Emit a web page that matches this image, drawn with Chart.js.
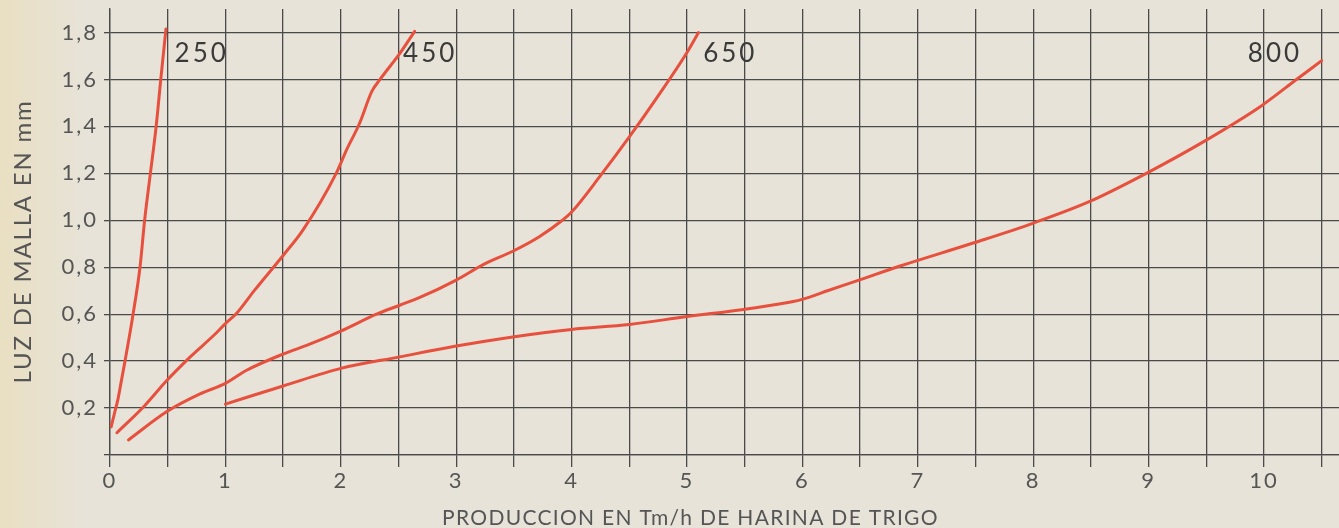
<!DOCTYPE html>
<html>
<head>
<meta charset="utf-8">
<script src="https://cdn.jsdelivr.net/npm/chart.js@4/dist/chart.umd.min.js"></script>
<style>
  html, body { margin: 0; padding: 0; background: #e6e2d8; }
  canvas { display: block; }
</style>
</head>
<body>
<canvas id="c" width="1339" height="528"></canvas>
<script>
// ---- data ----
const x250 = [0.01, 0.04, 0.07, 0.10, 0.13, 0.20, 0.26, 0.30, 0.35, 0.40, 0.44, 0.485];
const y250 = [0.12, 0.18, 0.24, 0.32, 0.40, 0.60, 0.80, 1.00, 1.20, 1.40, 1.60, 1.815];

const x450 = [0.06, 0.30, 0.49, 0.70, 0.90, 1.00, 1.10, 1.25, 1.50, 1.67, 1.96, 2.05, 2.16, 2.27, 2.34, 2.51, 2.64];
const y450 = [0.095, 0.21, 0.316, 0.42, 0.51, 0.56, 0.605, 0.70, 0.85, 0.957, 1.20, 1.30, 1.41, 1.55, 1.60, 1.71, 1.805];

const x650 = [0.16, 0.49, 0.78, 1.00, 1.18, 1.50, 1.73, 2.00, 2.31, 2.51, 2.68, 3.00, 3.23, 3.49, 3.72, 3.92, 4.00, 4.25, 4.50, 4.75, 5.00, 5.10];
const y650 = [0.064, 0.184, 0.26, 0.305, 0.36, 0.43, 0.472, 0.528, 0.60, 0.638, 0.67, 0.745, 0.81, 0.868, 0.93, 1.00, 1.035, 1.19, 1.355, 1.53, 1.715, 1.80];

const x800 = [1.00, 1.50, 2.00, 2.51, 3.00, 3.49, 4.00, 4.50, 4.99, 5.49, 5.80, 5.99, 6.23, 6.49, 6.84, 7.48, 7.99, 8.48, 8.98, 9.47, 9.97, 10.29, 10.50];
const y800 = [0.217, 0.294, 0.369, 0.418, 0.464, 0.503, 0.535, 0.556, 0.589, 0.62, 0.643, 0.662, 0.702, 0.745, 0.804, 0.903, 0.986, 1.078, 1.20, 1.333, 1.485, 1.603, 1.68];

const seriesNames = ['250', '450', '650', '800'];
// label anchor (data coords, left edge / vertical middle)
const labelX = [0.56, 2.54, 5.14, 9.86];
const labelY = [1.71, 1.71, 1.71, 1.71];

const xTitle = 'PRODUCCION EN Tm/h DE HARINA DE TRIGO';
const yTitle = 'LUZ DE MALLA EN mm';

// ---- helpers ----
const toPts = (xs, ys) => xs.map((x, i) => ({ x, y: ys[i] }));
const RED = '#e8503e';
const GRID = '#4a4a4a';
const TXT = '#555555';
const FONT = 'Lato, "Open Sans", sans-serif';
const TICK_SPACING = '2px';

const mk = (name, xs, ys) => ({
  label: name,
  data: toPts(xs, ys),
  borderColor: RED,
  borderWidth: 3,
  pointRadius: 0,
  fill: false,
  cubicInterpolationMode: 'monotone',
  tension: 0.4,
  borderCapStyle: 'round',
  borderJoinStyle: 'round'
});

const spacingPlugin = {
  id: 'spacing',
  beforeUpdate(chart) { chart.ctx.letterSpacing = TICK_SPACING; },
  beforeLayout(chart) { chart.ctx.letterSpacing = TICK_SPACING; },
  beforeDraw(chart) { chart.ctx.letterSpacing = TICK_SPACING; }
};

const bgPlugin = {
  id: 'bg',
  beforeDraw(chart) {
    const { ctx, width, height } = chart;
    ctx.save();
    const g = ctx.createLinearGradient(0, 0, 90, 0);
    g.addColorStop(0, '#e9dfc2');
    g.addColorStop(1, '#e7e3d9');
    ctx.fillStyle = g;
    ctx.fillRect(0, 0, width, height);
    ctx.restore();
  }
};

const textPlugin = {
  id: 'texts',
  afterDraw(chart) {
    const { ctx, scales } = chart;
    const xs = scales.x, ys = scales.y;
    ctx.save();
    // curve labels
    ctx.fillStyle = '#3a3a3a';
    ctx.font = '26px ' + FONT;
    ctx.letterSpacing = '3px';
    ctx.textAlign = 'left';
    ctx.textBaseline = 'middle';
    seriesNames.forEach((n, i) => {
      ctx.fillText(n, xs.getPixelForValue(labelX[i]), ys.getPixelForValue(labelY[i]));
    });
    // x title
    ctx.fillStyle = TXT;
    ctx.font = '21px ' + FONT;
    ctx.letterSpacing = '1.3px';
    ctx.textAlign = 'center';
    ctx.textBaseline = 'middle';
    ctx.fillText(xTitle, xs.getPixelForValue(5.03), 518);
    // y title
    ctx.font = '24px ' + FONT;
    ctx.letterSpacing = '1.8px';
    ctx.translate(23, ys.getPixelForValue(0.91));
    ctx.rotate(-Math.PI / 2);
    ctx.fillText(yTitle, 0, 0);
    ctx.restore();
  }
};

new Chart(document.getElementById('c'), {
  type: 'line',
  data: {
    datasets: [mk('250', x250, y250), mk('450', x450, y450), mk('650', x650, y650), mk('800', x800, y800)]
  },
  plugins: [spacingPlugin, bgPlugin, textPlugin],
  options: {
    responsive: false,
    animation: false,
    devicePixelRatio: 1,
    layout: { padding: { top: 9, left: 0, right: 0, bottom: 0 } },
    plugins: { legend: { display: false }, tooltip: { enabled: false } },
    scales: {
      x: {
        type: 'linear',
        min: 0,
        max: 10.65,
        afterFit(s) { s.height = 73; s.paddingLeft = 0; s.paddingRight = 0; },
        grid: { color: GRID, lineWidth: 1.3, tickLength: 12, drawOnChartArea: true },
        border: { color: GRID, width: 1.3 },
        ticks: {
          stepSize: 0.5,
          includeBounds: false,
          autoSkip: false,
          maxRotation: 0,
          padding: 1,
          color: TXT,
          font: { family: FONT, size: 22 },
          callback: (v) => (Math.abs(v - Math.round(v)) < 1e-6 ? String(Math.round(v)) : '')
        }
      },
      y: {
        type: 'linear',
        min: 0,
        max: 1.9,
        afterFit(s) { s.width = 110; s.paddingTop = 0; s.paddingBottom = 0; },
        grid: { color: GRID, lineWidth: 1.3, tickLength: 6 },
        border: { color: GRID, width: 1.3 },
        ticks: {
          stepSize: 0.2,
          includeBounds: false,
          autoSkip: false,
          padding: 6,
          color: TXT,
          font: { family: FONT, size: 22 },
          callback: (v) => (v < 1e-6 ? '' : v.toFixed(1).replace('.', ','))
        }
      }
    }
  }
});
</script>
</body>
</html>
